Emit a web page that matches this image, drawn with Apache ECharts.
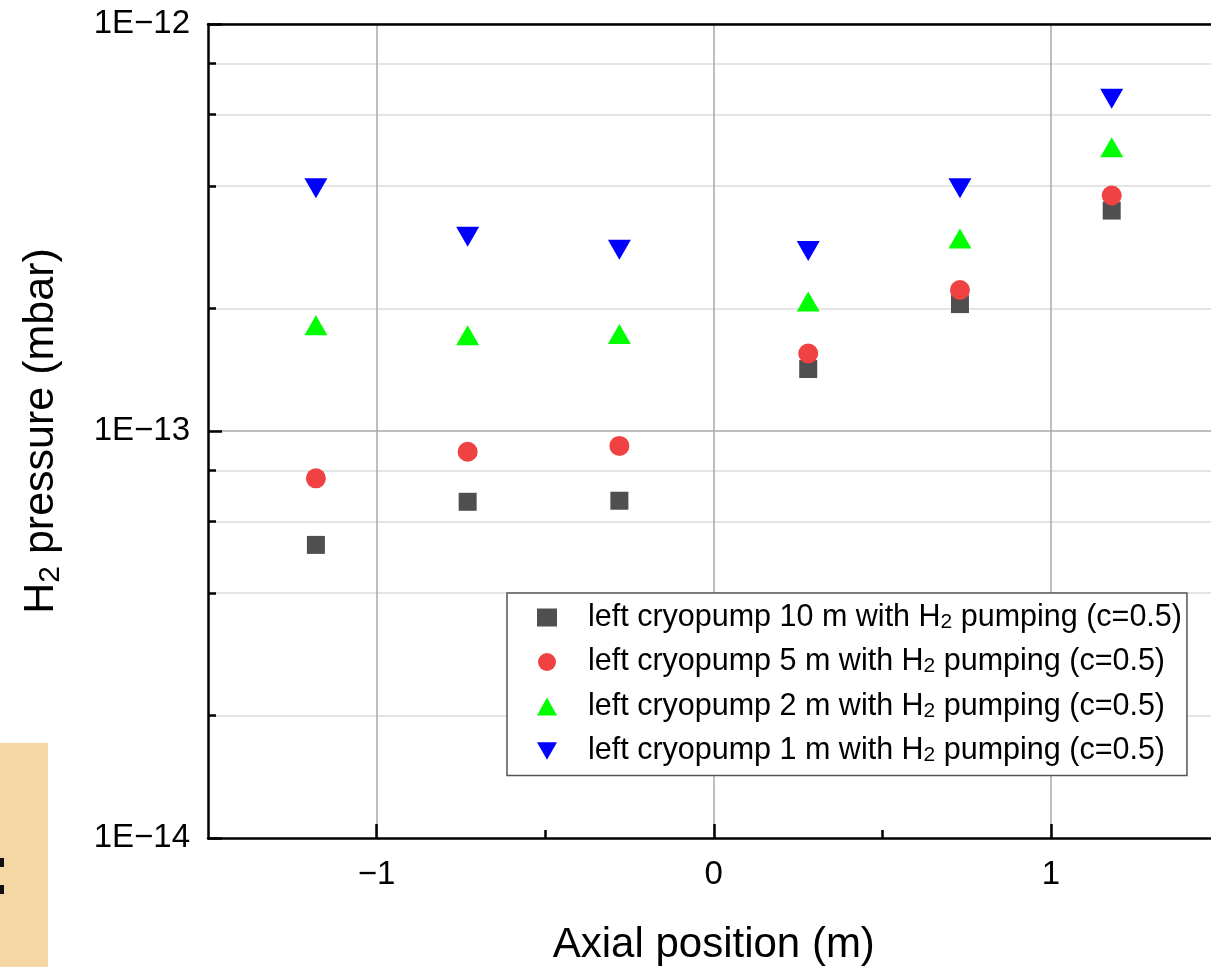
<!DOCTYPE html>
<html><head><meta charset="utf-8">
<script src="https://cdn.jsdelivr.net/npm/echarts@6/dist/echarts.min.js"></script>
<style>html,body{margin:0;padding:0;background:#fff}#c{width:1211px;height:967px}</style>
</head><body><div id="c"></div>
<script>
// ---- data ----
const positions = [-1.18, -0.73, -0.28, 0.28, 0.73, 1.18];
const pump10m = [5.25e-14, 6.70e-14, 6.74e-14, 1.42e-13, 2.05e-13, 3.48e-13];
const pump5m  = [7.65e-14, 8.89e-14, 9.19e-14, 1.55e-13, 2.22e-13, 3.79e-13];
const pump2m  = [1.82e-13, 1.72e-13, 1.73e-13, 2.08e-13, 2.97e-13, 4.98e-13];
const pump1m  = [3.95e-13, 3.00e-13, 2.79e-13, 2.77e-13, 3.95e-13, 6.55e-13];
const seriesNames = [
  'left cryopump 10 m with H2 pumping (c=0.5)',
  'left cryopump 5 m with H2 pumping (c=0.5)',
  'left cryopump 2 m with H2 pumping (c=0.5)',
  'left cryopump 1 m with H2 pumping (c=0.5)'
];
const xMajorTicks = [-1, 0, 1];
const xMinorTicks = [-0.5, 0.5];
const yMinorTicks = [2e-14, 4e-14, 6e-14, 8e-14, 2e-13, 4e-13, 6e-13, 8e-13];
const xTitle = 'Axial position (m)';
const yTitle = 'H{sub|2} pressure (mbar)';

const FONT = '"Liberation Sans", Arial, sans-serif';
const pair = ys => positions.map((x, i) => [x, ys[i]]);
const minus = v => (v < 0 ? '\u2212' + Math.abs(v) : String(v));

const chart = echarts.init(document.getElementById('c'));
const xBase = {type: 'value', min: -1.5, max: 1.5, gridIndex: 0};
const yBase = {type: 'log', logBase: 10, min: 1e-14, max: 1e-12, gridIndex: 0};
chart.setOption({
  backgroundColor: '#fff',
  animation: false,
  textStyle: {fontFamily: FONT},
  grid: {left: 208, top: 24, width: 1011.6, height: 814, containLabel: false, outerBoundsMode: 'none'},
  graphic: [
    {type: 'rect', shape: {x: 0, y: 743, width: 48, height: 224}, style: {fill: '#f5d6a5'}, z: -1},
    {type: 'rect', shape: {x: 0, y: 858, width: 4, height: 9}, style: {fill: '#111'}},
    {type: 'rect', shape: {x: 0, y: 885, width: 4, height: 9}, style: {fill: '#111'}}
  ],
  xAxis: [
    Object.assign({}, xBase, {
      position: 'bottom',
      name: xTitle, nameLocation: 'middle', nameGap: 86,
      nameTextStyle: {fontSize: 42, color: '#000', fontFamily: FONT},
      axisLine: {show: true, onZero: false, lineStyle: {color: '#000', width: 2.5}},
      axisTick: {show: true, inside: true, length: 14, customValues: xMajorTicks, lineStyle: {color: '#000', width: 2.5}},
      axisLabel: {show: true, customValues: xMajorTicks, formatter: minus, fontSize: 33, color: '#000', margin: 20, fontFamily: FONT},
      splitLine: {show: true, lineStyle: {color: '#a8a8a8', width: 1.5}}
    }),
    Object.assign({}, xBase, {
      position: 'bottom',
      axisLine: {show: false, onZero: false},
      axisTick: {show: true, inside: true, length: 8, customValues: xMinorTicks, lineStyle: {color: '#000', width: 2.5}},
      axisLabel: {show: false},
      splitLine: {show: false}
    }),
    Object.assign({}, xBase, {
      position: 'top',
      axisLine: {show: true, onZero: false, lineStyle: {color: '#000', width: 2.5}},
      axisTick: {show: false}, axisLabel: {show: false}, splitLine: {show: false}
    })
  ],
  yAxis: [
    Object.assign({}, yBase, {
      position: 'left',
      name: yTitle, nameLocation: 'middle', nameGap: 142, nameRotate: 90,
      nameTextStyle: {fontSize: 43, color: '#000', fontFamily: FONT, lineHeight: 49,
        rich: {sub: {fontSize: 30, lineHeight: 14, verticalAlign: 'bottom', fontFamily: FONT, color: '#000'}}},
      axisLine: {show: true, onZero: false, lineStyle: {color: '#000', width: 2.5}},
      axisTick: {show: true, inside: true, length: 14, lineStyle: {color: '#000', width: 2.5}},
      axisLabel: {show: true, fontSize: 33, color: '#000', margin: 18, fontFamily: FONT,
        formatter: v => '1E\u2212' + Math.abs(Math.round(Math.log10(v)))},
      splitLine: {show: true, showMinLine: false, showMaxLine: false, lineStyle: {color: '#a8a8a8', width: 1.5}}
    }),
    Object.assign({}, yBase, {
      position: 'left',
      axisLine: {show: false, onZero: false},
      axisTick: {show: true, inside: true, length: 8, customValues: yMinorTicks, lineStyle: {color: '#000', width: 2.5}},
      axisLabel: {show: false},
      splitLine: {show: true, lineStyle: {color: '#dcdcdc', width: 1.5}}
    })
  ],
  legend: {
    orient: 'vertical', left: 507, top: 593,
    padding: [9, 5, 9, 30],
    itemGap: 13.5, itemWidth: 20, itemHeight: 18,
    borderColor: '#555', borderWidth: 1.5, backgroundColor: '#fff',
    formatter: n => n.replace('H2', 'H{sub|2}'),
    textStyle: {fontSize: 30.5, color: '#000', fontFamily: FONT, lineHeight: 30, padding: [0, 0, 0, 26],
      rich: {sub: {fontSize: 21, lineHeight: 12, verticalAlign: 'bottom', fontFamily: FONT, color: '#000'}}},
    data: seriesNames
  },
  series: [
    {name: seriesNames[0], type: 'scatter', xAxisIndex: 0, yAxisIndex: 0, data: pair(pump10m),
     symbol: 'rect', symbolSize: 18, itemStyle: {color: '#4f4f4f', opacity: 1}},
    {name: seriesNames[1], type: 'scatter', xAxisIndex: 0, yAxisIndex: 0, data: pair(pump5m),
     symbol: 'circle', symbolSize: 20, itemStyle: {color: '#f04242', opacity: 1}},
    {name: seriesNames[2], type: 'scatter', xAxisIndex: 0, yAxisIndex: 0, data: pair(pump2m),
     symbol: 'triangle', symbolSize: [23, 20], itemStyle: {color: '#00ff00', opacity: 1}},
    {name: seriesNames[3], type: 'scatter', xAxisIndex: 0, yAxisIndex: 0, data: pair(pump1m),
     symbol: 'path://M0,0L2,0L1,1.732Z', symbolSize: [23, 20], itemStyle: {color: '#0000ff', opacity: 1}}
  ]
});
</script></body></html>
